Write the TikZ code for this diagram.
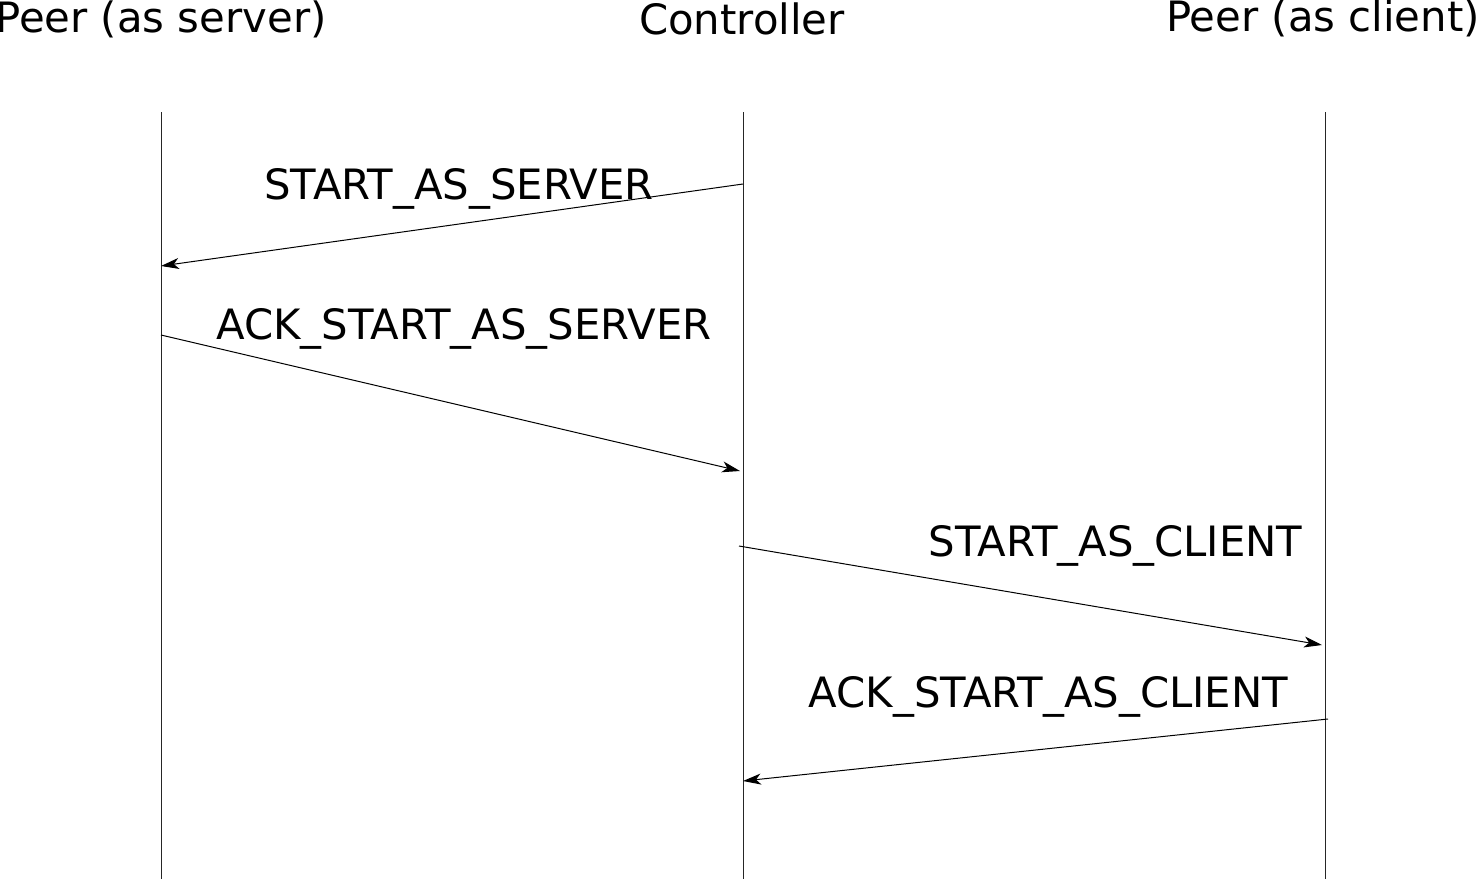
\documentclass[tikz,border=0pt]{standalone}
\usepackage{fontspec}
\setmainfont{DejaVu Sans}
\usetikzlibrary{arrows.meta}
\begin{document}
\begin{tikzpicture}[x=1pt,y=-1pt,
  lbl/.style={anchor=base,inner sep=0pt,font=\fontsize{41.8}{50}\selectfont},
  life/.style={line width=1pt,black!85},
  msg/.style={line width=1pt,-{Stealth[length=18pt,width=11pt,inset=5pt]}}]
\useasboundingbox (0,0) rectangle (1477,879);
% titles
\node[lbl] (tS) at (161,32) {Peer (as server)};
\node[lbl] (tC) at (742,34) {Controller};
\node[lbl] (tK) at (1323,31) {Peer (as client)};
% lifelines
\coordinate (sTop) at (161,112); \coordinate (sBot) at (161,879);
\coordinate (cTop) at (743,112); \coordinate (cBot) at (743,879);
\coordinate (kTop) at (1325,112); \coordinate (kBot) at (1325,879);
\draw[life] (sTop) -- (sBot);
\draw[life] (cTop) -- (cBot);
\draw[life] (kTop) -- (kBot);
% message endpoints
\coordinate (m1a) at (743,184); \coordinate (m1b) at (161,266);
\coordinate (m2a) at (161,335); \coordinate (m2b) at (740,471);
\coordinate (m3a) at (739,546); \coordinate (m3b) at (1322,645);
\coordinate (m4a) at (1328,719); \coordinate (m4b) at (743,781);
\draw[msg] (m1a) -- (m1b);
\draw[msg] (m2a) -- (m2b);
\draw[msg] (m3a) -- (m3b);
\draw[msg] (m4a) -- (m4b);
% labels
\node[lbl] (l1) at (459,199) {START\_AS\_SERVER};
\node[lbl] (l2) at (464,339) {ACK\_START\_AS\_SERVER};
\node[lbl] (l3) at (1115.5,556) {START\_AS\_CLIENT};
\node[lbl] (l4) at (1048.5,707) {ACK\_START\_AS\_CLIENT};
\end{tikzpicture}
\end{document}
